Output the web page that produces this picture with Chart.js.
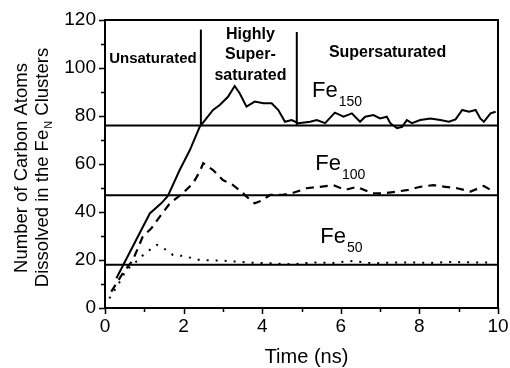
<!DOCTYPE html>
<html>
<head>
<meta charset="utf-8">
<script src="https://cdn.jsdelivr.net/npm/chart.js@4.4.1/dist/chart.umd.min.js"></script>
<style>
html,body{margin:0;padding:0;background:#fff;}
#wrap{width:510px;height:368px;position:relative;}
</style>
</head>
<body>
<div id="wrap"><canvas id="c" width="510" height="368"></canvas></div>
<script>
// ---- data ----
const fe150T = [0.29, 1.14, 1.43, 1.6, 1.9, 2.16, 2.41, 2.75, 2.92, 3.13, 3.30, 3.43, 3.6, 3.81, 4.03, 4.24, 4.41, 4.58, 4.75, 4.92, 5.22, 5.39, 5.6, 5.85, 6.07, 6.28, 6.49, 6.62, 6.83, 7.0, 7.17, 7.26, 7.43, 7.56, 7.68, 7.81, 8.02, 8.28, 8.53, 8.75, 8.92, 9.09, 9.26, 9.43, 9.55, 9.64, 9.81, 9.94];
const fe150V = [12.4, 39.4, 43.6, 46.7, 57.5, 65.8, 75.5, 82.5, 84.6, 88, 92.5, 89.4, 83.9, 86, 85.3, 85.3, 82.5, 77.6, 78.3, 77, 77.6, 78.3, 77, 81.4, 79.7, 81.1, 77.6, 79.7, 80.4, 79, 79.7, 77, 74.9, 75.5, 78.3, 77, 78.3, 79, 78.3, 77.6, 78.6, 82.5, 81.8, 82.5, 79, 77.6, 81.1, 81.8];

const fe100T = [0.16, 0.45, 0.71, 0.96, 1.18, 1.39, 1.65, 1.98, 2.24, 2.41, 2.5, 2.75, 3.0, 3.26, 3.52, 3.6, 3.81, 3.98, 4.2, 4.49, 4.79, 5.13, 5.47, 5.81, 6.11, 6.41, 6.79, 7.09, 7.43, 7.72, 8.02, 8.36, 8.66, 8.96, 9.3, 9.64, 9.89];
const fe100V = [6.8, 14.4, 20, 29.7, 33.2, 38, 43.6, 47.8, 52, 56.8, 60.3, 57.5, 53.3, 51.2, 47.8, 46.4, 43.6, 44.7, 47.1, 47.1, 48, 49.9, 50.5, 51.2, 49.2, 50.5, 47.8, 47.8, 48.5, 49.2, 50.5, 51.2, 50.5, 49.9, 48.5, 50.8, 48.5];

const fe50T = [0.11, 0.33, 0.54, 0.75, 0.92, 1.14, 1.32, 1.56, 1.73, 1.98, 2.41, 3.0, 3.69, 4.28, 4.75, 5.3, 5.8, 6.3, 6.8, 7.3, 7.8, 8.3, 8.8, 9.3, 9.8];
const fe50V = [4, 9.6, 15.8, 18.6, 21.4, 24.2, 26.3, 24.2, 22.1, 21.7, 20, 19.7, 18.9, 18.6, 18.2, 19.0, 18.8, 19.6, 18.6, 18.9, 19.0, 18.8, 19.2, 19.0, 18.9];

// saturation levels (horizontal lines) and regime boundaries (vertical lines)
const satLevels = [76, 47, 18];
const boundaryT = [2.44, 4.88];
const boundaryTop = [116, 115];
const boundaryBottom = 76;

const xTickLabels = [0, 2, 4, 6, 8, 10];
const yTickLabels = [0, 20, 40, 60, 80, 100, 120];

// text labels: [text, sub, t, value]
const seriesLabels = [["Fe", "150", 5.27, 87.9], ["Fe", "100", 5.35, 57.5], ["Fe", "50", 5.48, 27.2]];
// [text, t, value, font size]
const regimeLabels = [
  ["Unsaturated", 1.22, 102.1, 15],
  ["Highly", 3.70, 112.1, 16],
  ["Super-", 3.70, 103.75, 16],
  ["saturated", 3.70, 95.0, 16],
  ["Supersaturated", 7.19, 104.6, 16]
];
const xTitle = "Time (ns)";
const yTitle1 = "Number of Carbon Atoms";
const yTitle2 = ["Dissolved in the Fe", "N", " Clusters"];

const FONT = "'Liberation Sans', Arial, Helvetica, sans-serif";

function pts(xs, ys){ return xs.map((x,i)=>({x:x, y:ys[i]})); }

const datasets = [];
satLevels.forEach(v => datasets.push({data:[{x:0,y:v},{x:10,y:v}], borderColor:'#000', borderWidth:2, pointRadius:0, showLine:true, fill:false}));
boundaryT.forEach((t,i) => datasets.push({data:[{x:t,y:boundaryBottom},{x:t,y:boundaryTop[i]}], borderColor:'#000', borderWidth:2, pointRadius:0, showLine:true, fill:false}));
datasets.push({label:'Fe150', data:pts(fe150T, fe150V), borderColor:'#000', borderWidth:2, pointRadius:0, showLine:true, tension:0, fill:false});
datasets.push({label:'Fe100', data:pts(fe100T, fe100V), borderColor:'#000', borderWidth:2.2, borderDash:[8,6], pointRadius:0, showLine:true, tension:0, fill:false});
datasets.push({label:'Fe50', data:pts(fe50T, fe50V), borderColor:'#000', borderWidth:2, borderDash:[2,7], pointRadius:0, showLine:true, tension:0, fill:false});

const decor = {
  id:'decor',
  afterDraw(chart){
    const ctx = chart.ctx, ca = chart.chartArea;
    const xs = chart.scales.x, ys = chart.scales.y;
    ctx.save();
    ctx.strokeStyle = '#000';
    ctx.lineWidth = 2;
    ctx.strokeRect(ca.left, ca.top, ca.right-ca.left, ca.bottom-ca.top);
    // tick marks
    ctx.lineWidth = 1.5;
    ctx.beginPath();
    for (let t=0; t<=10; t++){
      const px = Math.round(xs.getPixelForValue(t))+0.5;
      const len = (t%2===0) ? 6 : 4;
      ctx.moveTo(px, ca.bottom); ctx.lineTo(px, ca.bottom+len);
    }
    for (let v=0; v<=120; v+=10){
      const py = Math.round(ys.getPixelForValue(v))+0.5;
      const len = (v%20===0) ? 6 : 4;
      ctx.moveTo(ca.left, py); ctx.lineTo(ca.left-len, py);
    }
    ctx.stroke();

    ctx.fillStyle = '#000';
    // regime labels
    ctx.textAlign = 'center';
    ctx.textBaseline = 'alphabetic';
    regimeLabels.forEach(l => {
      ctx.font = 'bold ' + l[3] + 'px ' + FONT;
      ctx.fillText(l[0], xs.getPixelForValue(l[1]), ys.getPixelForValue(l[2]));
    });
    // series labels
    seriesLabels.forEach(l => {
      const x = xs.getPixelForValue(l[2]), y = ys.getPixelForValue(l[3]);
      ctx.textAlign = 'left';
      ctx.font = '22px ' + FONT;
      ctx.fillText(l[0], x, y);
      const w = ctx.measureText(l[0]).width;
      ctx.font = '14px ' + FONT;
      ctx.fillText(l[1], x + w + 1, y + 9);
    });
    // x title
    ctx.font = '20px ' + FONT;
    ctx.textAlign = 'center';
    ctx.fillText(xTitle, (ca.left+ca.right)/2 + 5, 363);
    // y title (rotated)
    const cy = 168;
    ctx.save();
    ctx.translate(27, cy);
    ctx.rotate(-Math.PI/2);
    ctx.font = '18.5px ' + FONT;
    ctx.textAlign = 'center';
    ctx.fillText(yTitle1, 0, 0);
    ctx.restore();
    ctx.save();
    ctx.translate(48, cy);
    ctx.rotate(-Math.PI/2);
    ctx.textAlign = 'left';
    ctx.font = '18.5px ' + FONT;
    const w1 = ctx.measureText(yTitle2[0]).width;
    const w3 = ctx.measureText(yTitle2[2]).width;
    ctx.font = '11px ' + FONT;
    const w2 = ctx.measureText(yTitle2[1]).width;
    let x0 = -(w1+w2+w3)/2;
    ctx.font = '18.5px ' + FONT;
    ctx.fillText(yTitle2[0], x0, 0);
    ctx.font = '11px ' + FONT;
    ctx.fillText(yTitle2[1], x0 + w1 + 1, 4);
    ctx.font = '18.5px ' + FONT;
    ctx.fillText(yTitle2[2], x0 + w1 + w2 + 1, 0);
    ctx.restore();
    ctx.restore();
  }
};

new Chart(document.getElementById('c'), {
  type:'scatter',
  data:{datasets:datasets},
  options:{
    responsive:false,
    animation:false,
    events:[],
    layout:{padding:{left:0, right:12, top:20, bottom:0}},
    plugins:{legend:{display:false}, tooltip:{enabled:false}},
    scales:{
      x:{
        type:'linear', min:0, max:10,
        afterBuildTicks(s){ s.ticks = xTickLabels.map(v=>({value:v})); },
        afterFit(s){ s.height = 60; },
        border:{display:false},
        grid:{display:true, drawOnChartArea:false, tickLength:6, tickColor:'rgba(0,0,0,0)'},
        ticks:{color:'#000', font:{family:FONT, size:19}, padding:1, maxRotation:0, autoSkip:false}
      },
      y:{
        type:'linear', min:0, max:120,
        afterBuildTicks(s){ s.ticks = yTickLabels.map(v=>({value:v})); },
        afterFit(s){ s.width = 105; },
        border:{display:false},
        grid:{display:true, drawOnChartArea:false, tickLength:6, tickColor:'rgba(0,0,0,0)'},
        ticks:{color:'#000', font:{family:FONT, size:19}, padding:3, autoSkip:false}
      }
    }
  },
  plugins:[decor]
});
</script>
</body>
</html>
